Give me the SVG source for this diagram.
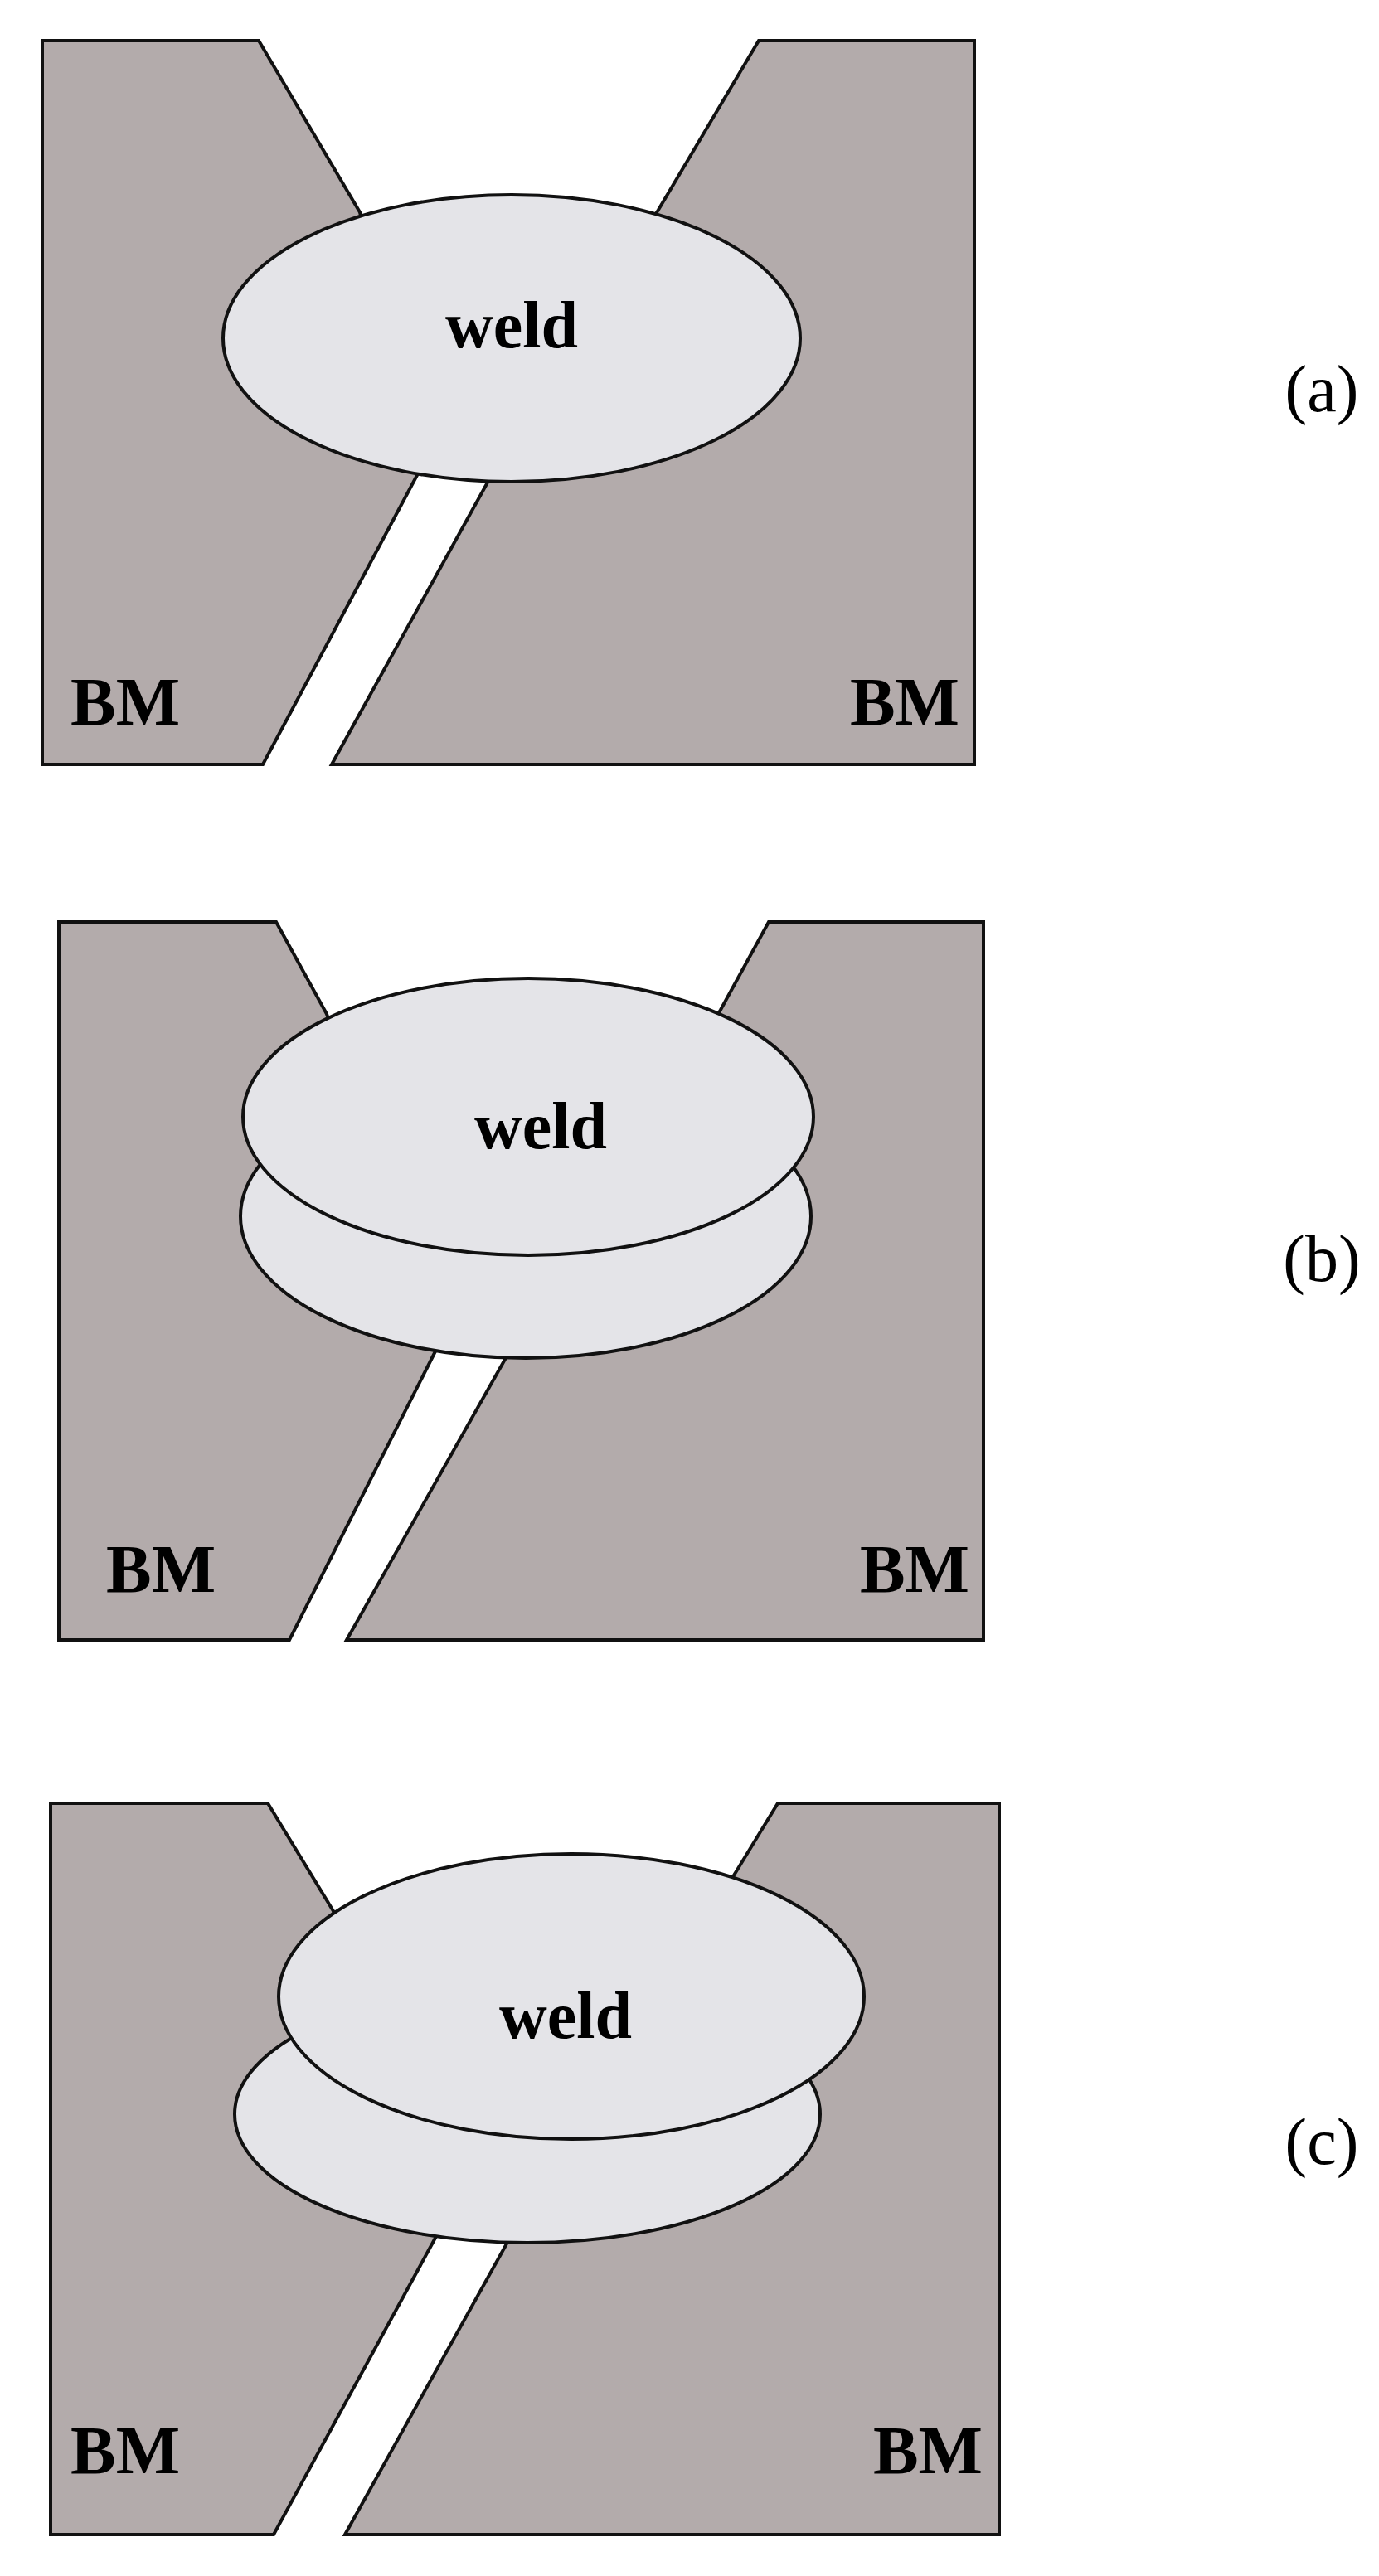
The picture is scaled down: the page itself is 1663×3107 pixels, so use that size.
<svg xmlns="http://www.w3.org/2000/svg" width="1663" height="3107" viewBox="0 0 1663 3107">
<style>
.bm{fill:#b3abab;stroke:#111;stroke-width:4;stroke-linejoin:miter}
.wd{fill:#e4e4e8;stroke:#111;stroke-width:4}
.t{font-family:"Liberation Serif",serif;font-weight:bold;fill:#000}
.lab{font-family:"Liberation Serif",serif;font-size:80px;fill:#000}
</style>
<rect width="1663" height="3107" fill="#fff"/>
<g id="panel-a">
<polygon class="bm" points="51,49 312,49 434,256 510,560 317,922 51,922"/>
<polygon class="bm" points="915,49 1175,49 1175,922 400,922 600,560 794,253"/>
<ellipse class="wd" cx="617" cy="408" rx="348" ry="173"/>
<text class="t" x="617" y="419" font-size="80" text-anchor="middle">weld</text>
<text class="t" x="85" y="874" font-size="82">BM</text>
<text class="t" x="1157" y="874" font-size="82" text-anchor="end">BM</text>
<text class="lab" x="1594" y="496" text-anchor="middle">(a)</text>
</g>
<g id="panel-b">
<polygon class="bm" points="71,1112 333,1112 394,1223 530,1620 349,1978 71,1978"/>
<polygon class="bm" points="927,1112 1186,1112 1186,1978 418,1978 620,1620 869,1218"/>
<ellipse class="wd" cx="634" cy="1467" rx="344" ry="171"/>
<ellipse class="wd" cx="637" cy="1347" rx="344" ry="167"/>
<text class="t" x="652" y="1385" font-size="80" text-anchor="middle">weld</text>
<text class="t" x="128" y="1920" font-size="82">BM</text>
<text class="t" x="1169" y="1920" font-size="82" text-anchor="end">BM</text>
<text class="lab" x="1594" y="1545" text-anchor="middle">(b)</text>
</g>
<g id="panel-c">
<polygon class="bm" points="61,2175 323,2175 402,2305 530,2690 330,3057 61,3057"/>
<polygon class="bm" points="938,2175 1205,2175 1205,3057 416,3057 620,2690 888,2257"/>
<ellipse class="wd" cx="636" cy="2550" rx="353" ry="155"/>
<ellipse class="wd" cx="689" cy="2408" rx="353" ry="172"/>
<text class="t" x="682" y="2458" font-size="80" text-anchor="middle">weld</text>
<text class="t" x="85" y="2983" font-size="82">BM</text>
<text class="t" x="1185" y="2983" font-size="82" text-anchor="end">BM</text>
<text class="lab" x="1594" y="2610" text-anchor="middle">(c)</text>
</g>
<g id="connectors"/>
</svg>
